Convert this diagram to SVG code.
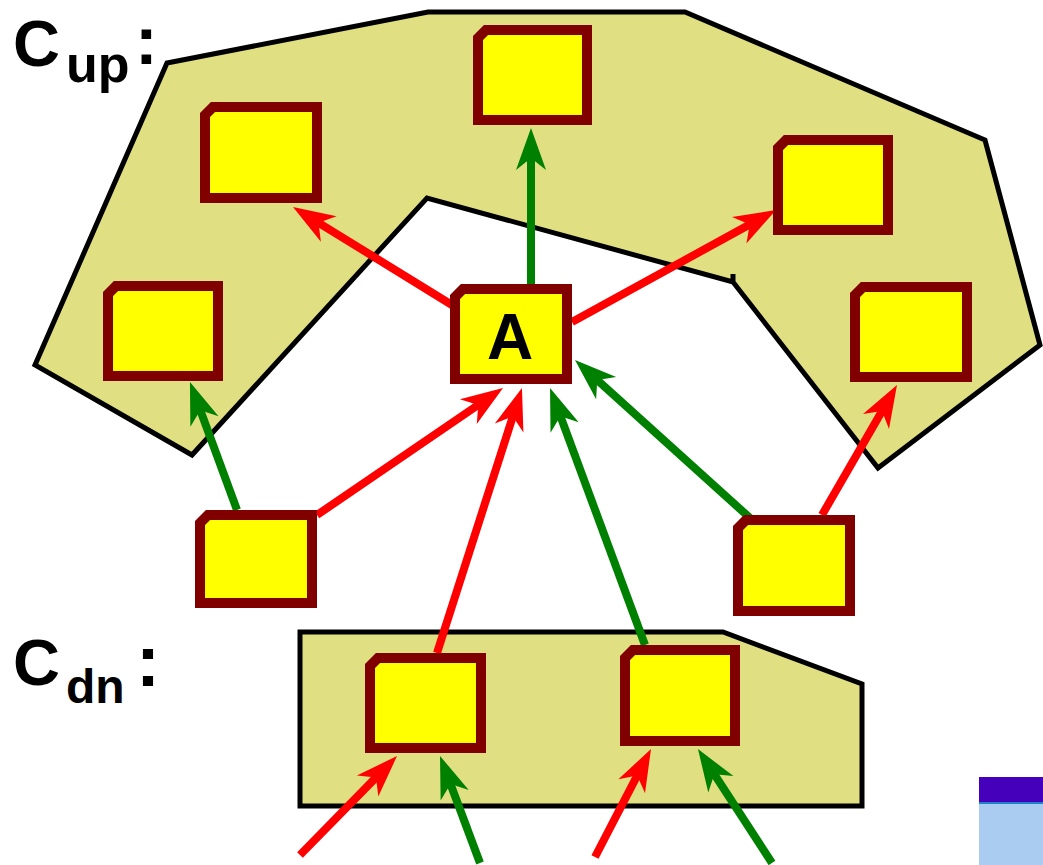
<svg xmlns="http://www.w3.org/2000/svg" width="1043" height="865" viewBox="0 0 1043 865">
<style>
.region{fill:#E0DF82;stroke:#000;stroke-width:5;stroke-linejoin:miter}
.node{fill:#FFFF00;stroke:#800000;stroke-width:10;stroke-linejoin:miter}
.lbl{font-family:"Liberation Sans",Arial,sans-serif;font-weight:bold;fill:#000}
.r{stroke:#FF0000;stroke-width:8;fill:none;marker-end:url(#hr)}
.g{stroke:#008000;stroke-width:8;fill:none;marker-end:url(#hg)}
</style>
<defs>
<marker id="hr" markerUnits="userSpaceOnUse" markerWidth="46" markerHeight="34" viewBox="-44 -17 46 34" refX="-12" refY="0" orient="auto"><path d="M0,0 L-42,-15 L-30,0 L-42,15 Z" fill="#FF0000"/></marker>
<marker id="hg" markerUnits="userSpaceOnUse" markerWidth="46" markerHeight="34" viewBox="-44 -17 46 34" refX="-12" refY="0" orient="auto"><path d="M0,0 L-42,-15 L-30,0 L-42,15 Z" fill="#008000"/></marker>
</defs>
<rect width="1043" height="865" fill="#FFFFFF"/>
<g id="regions">
<polygon id="Cup" class="region" points="167,63 428,12 685,12 985,140 1040,345 878,468 733,282 733,274 733,282 427,198 192,455 35,365"/>
<polygon id="Cdn" class="region" points="300,632 723,632 862,684 862,806 300,806"/>
</g>
<g id="labels">
<text class="lbl" x="13" y="66" font-size="65">C</text>
<text class="lbl" x="66" y="82" font-size="52">up</text>
<text class="lbl" x="135" y="64" font-size="68">:</text>
<text class="lbl" x="13" y="685" font-size="65">C</text>
<text class="lbl" x="66" y="703" font-size="48">dn</text>
<text class="lbl" x="136" y="686" font-size="72">:</text>
</g>
<g id="connectors">
<line class="g" x1="531" y1="284" x2="531" y2="140"/>
<line class="r" x1="452" y1="305" x2="303.2" y2="213.3"/>
<line class="r" x1="572" y1="322" x2="765.5" y2="215.8"/>
<line class="r" x1="317" y1="515" x2="493.1" y2="394.8"/>
<line class="g" x1="237" y1="510" x2="194.1" y2="393.3"/>
<line class="r" x1="437" y1="653" x2="518.3" y2="399.4"/>
<line class="g" x1="645" y1="645" x2="554.2" y2="399.3"/>
<line class="g" x1="750" y1="518" x2="583.9" y2="368"/>
<line class="r" x1="822" y1="515" x2="891" y2="395.4"/>
<line class="r" x1="300" y1="855" x2="388.6" y2="764.6"/>
<line class="g" x1="480" y1="863" x2="444.2" y2="767.2"/>
<line class="r" x1="595" y1="857" x2="645.5" y2="759.6"/>
<line class="g" x1="772" y1="863" x2="704.5" y2="759.1"/>
</g>
<g id="n-top"><path class="node" d="M486,30 L587,30 L587,120 L478,120 L478,38 Z"/></g>
<g id="n-topleft"><path class="node" d="M213,107 L317,107 L317,198 L205,198 L205,115 Z"/></g>
<g id="n-righttop"><path class="node" d="M786,140 L888,140 L888,230 L778,230 L778,148 Z"/></g>
<g id="n-left"><path class="node" d="M116,286 L218,286 L218,376 L108,376 L108,294 Z"/></g>
<g id="n-A"><path class="node" d="M463,289 L567,289 L567,379 L455,379 L455,297 Z"/>
<text class="lbl" x="510" y="359" font-size="64" text-anchor="middle">A</text></g>
<g id="n-right"><path class="node" d="M863,287 L967,287 L967,377 L855,377 L855,295 Z"/></g>
<g id="n-midleft"><path class="node" d="M208,515 L312,515 L312,603 L200,603 L200,523 Z"/></g>
<g id="n-midright"><path class="node" d="M746,520 L850,520 L850,611 L738,611 L738,528 Z"/></g>
<g id="n-dnleft"><path class="node" d="M378,658 L481,658 L481,748 L370,748 L370,666 Z"/></g>
<g id="n-dnright"><path class="node" d="M633,650 L735,650 L735,741 L625,741 L625,658 Z"/></g>
<g id="corner">
<rect x="979" y="777" width="64" height="88" fill="#AACCF0"/>
<rect x="979" y="777" width="64" height="26" fill="#4400BB"/>
<rect x="979" y="802" width="64" height="2" fill="#2080C8"/>
</g>
</svg>
